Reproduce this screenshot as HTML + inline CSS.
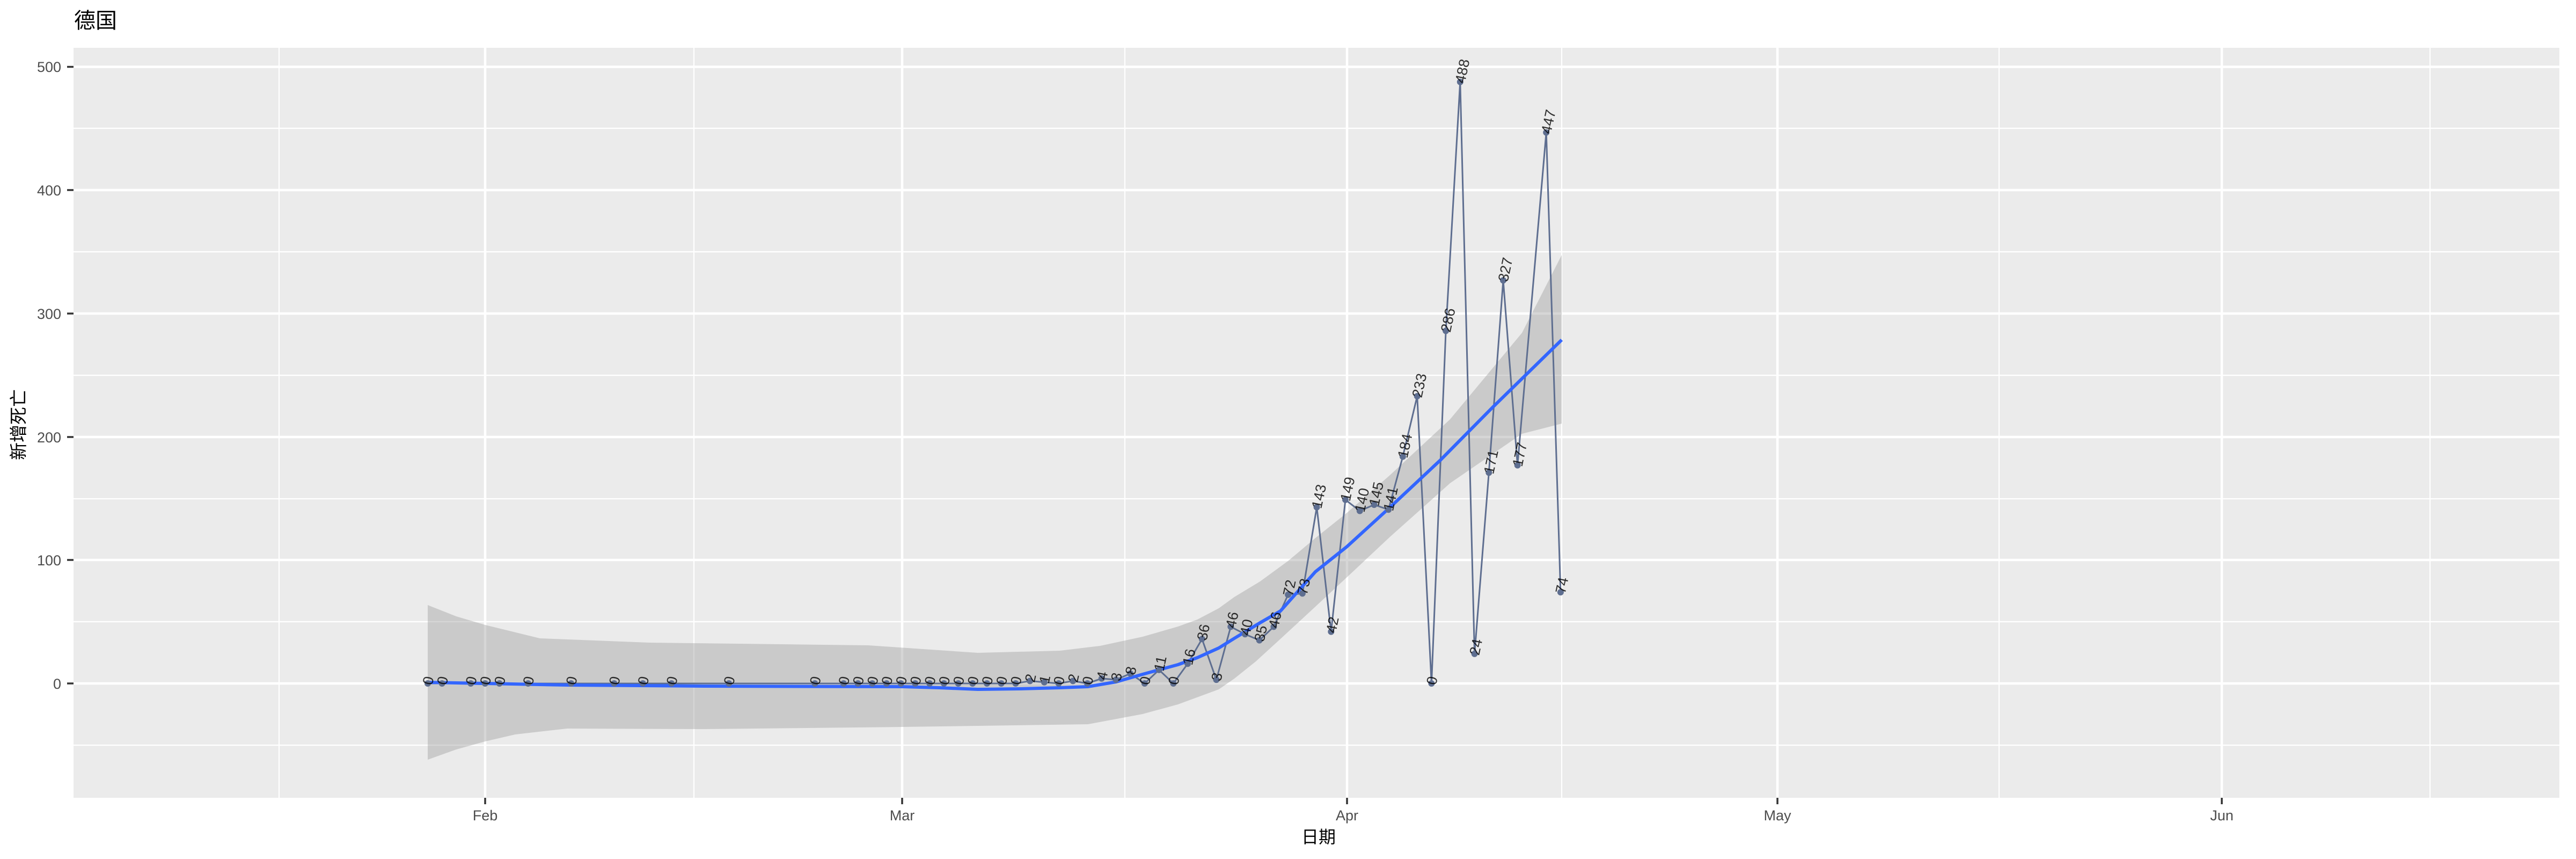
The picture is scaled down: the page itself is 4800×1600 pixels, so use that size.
<!DOCTYPE html>
<html><head><meta charset="utf-8"><style>
html,body{margin:0;padding:0;background:#fff;}
svg{display:block;}
.lab{font-family:"Liberation Sans",sans-serif;font-size:27px;fill:#000;fill-opacity:0.8;}
</style></head><body>
<svg width="4800" height="1600" viewBox="0 0 4800 1600" xmlns="http://www.w3.org/2000/svg">
<rect x="0" y="0" width="4800" height="1600" fill="#fff"/>
<text x="138" y="52" font-family="Liberation Sans,'Noto Sans CJK SC',sans-serif" font-size="40" fill="#000">德国</text>
<rect x="137" y="89" width="4632" height="1397" fill="#EBEBEB"/>
<g stroke="#fff" stroke-width="2.2">
<line x1="137" x2="4769" y1="1388" y2="1388"/><line x1="137" x2="4769" y1="1158" y2="1158"/>
<line x1="137" x2="4769" y1="929" y2="929"/><line x1="137" x2="4769" y1="699" y2="699"/>
<line x1="137" x2="4769" y1="469" y2="469"/><line x1="137" x2="4769" y1="239" y2="239"/>
<line y1="89" y2="1486" x1="520" x2="520"/><line y1="89" y2="1486" x1="1293" x2="1293"/>
<line y1="89" y2="1486" x1="2096" x2="2096"/><line y1="89" y2="1486" x1="2910" x2="2910"/>
<line y1="89" y2="1486" x1="3725" x2="3725"/><line y1="89" y2="1486" x1="4528" x2="4528"/>
</g>
<g stroke="#fff" stroke-width="4.5">
<line x1="137" x2="4769" y1="1273" y2="1273"/><line x1="137" x2="4769" y1="1043" y2="1043"/>
<line x1="137" x2="4769" y1="814" y2="814"/><line x1="137" x2="4769" y1="584" y2="584"/>
<line x1="137" x2="4769" y1="354" y2="354"/><line x1="137" x2="4769" y1="124.5" y2="124.5"/>
<line y1="89" y2="1486" x1="904" x2="904"/><line y1="89" y2="1486" x1="1681" x2="1681"/>
<line y1="89" y2="1486" x1="2510" x2="2510"/><line y1="89" y2="1486" x1="3312" x2="3312"/>
<line y1="89" y2="1486" x1="4140" x2="4140"/>
</g>
<path fill="#999" fill-opacity="0.4" d="M797,1127 L850,1148 L904,1164 L1006,1189 L1210,1197 L1618,1202 L1720,1209 L1822,1216 L1975,1212 L2050,1203 L2129,1186 L2195,1167 L2231,1154 L2271,1133 L2300,1112 L2348,1083 L2400,1045 L2450,1003 L2510,955 L2590,885 L2702,781 L2836,620 L2910,475 L2910,789 L2836,808 L2702,900 L2590,1000 L2510,1075 L2451,1130 L2386,1190 L2340,1232 L2300,1264 L2271,1284 L2195,1312 L2129,1330 L2027,1349 L1822,1352 L1682,1354 L1312,1358 L1057,1357 L960,1368 L904,1381 L850,1396 L797,1415 Z"/>
<polyline fill="none" stroke="#5E6E90" stroke-width="3" stroke-linejoin="round" points="797,1273 1892.5,1273 1919.2,1268.4 1945.9,1270.7 1972.6,1273 1999.3,1268.4 2026.1,1273 2052.8,1263.8 2079.5,1266.1 2106.2,1254.6 2132.9,1273 2159.7,1247.7 2186.4,1273 2213.1,1236.3 2239.8,1190.3 2266.5,1266.1 2293.3,1167.4 2320,1181.2 2346.7,1192.6 2373.4,1167.4 2400.1,1107.7 2426.9,1105.4 2453.6,944.7 2480.3,1176.6 2507,930.9 2533.8,951.6 2560.5,940.1 2587.2,949.3 2613.9,850.5 2640.7,738 2667.4,1273 2694.1,616.3 2720.8,152.6 2747.6,1217.9 2774.3,880.4 2801,522.2 2827.7,866.6 2881.2,246.7 2907.9,1103.1"/>
<polyline fill="none" stroke="#3366FF" stroke-width="6" stroke-linejoin="round" points="797,1271 904,1273 1057,1276 1312,1278 1682,1279 1750,1281 1822,1284 1900,1283 1975,1281 2027,1279 2080,1270 2129,1256 2195,1238 2231,1225 2271,1207 2300,1189 2348,1160 2386,1138 2451,1065 2510,1018 2590,945 2684,857 2782,758 2910,633"/>
<g fill="#5E6E90">
<circle cx="797" cy="1273" r="6"/><circle cx="823.7" cy="1273" r="6"/><circle cx="877.2" cy="1273" r="6"/><circle cx="903.9" cy="1273" r="6"/><circle cx="930.6" cy="1273" r="6"/><circle cx="984" cy="1273" r="6"/><circle cx="1064.2" cy="1273" r="6"/><circle cx="1144.4" cy="1273" r="6"/><circle cx="1197.8" cy="1273" r="6"/><circle cx="1251.2" cy="1273" r="6"/><circle cx="1358.1" cy="1273" r="6"/><circle cx="1518.4" cy="1273" r="6"/>
<circle cx="1571.9" cy="1273" r="6"/><circle cx="1598.6" cy="1273" r="6"/><circle cx="1625.3" cy="1273" r="6"/><circle cx="1652" cy="1273" r="6"/><circle cx="1678.7" cy="1273" r="6"/><circle cx="1705.4" cy="1273" r="6"/><circle cx="1732.2" cy="1273" r="6"/><circle cx="1758.9" cy="1273" r="6"/><circle cx="1785.6" cy="1273" r="6"/><circle cx="1812.3" cy="1273" r="6"/><circle cx="1839" cy="1273" r="6"/><circle cx="1865.7" cy="1273" r="6"/><circle cx="1892.5" cy="1273" r="6"/>
<circle cx="1919.2" cy="1268.4" r="6"/><circle cx="1945.9" cy="1270.7" r="6"/><circle cx="1972.6" cy="1273" r="6"/><circle cx="1999.3" cy="1268.4" r="6"/><circle cx="2026.1" cy="1273" r="6"/><circle cx="2052.8" cy="1263.8" r="6"/><circle cx="2079.5" cy="1266.1" r="6"/><circle cx="2106.2" cy="1254.6" r="6"/><circle cx="2132.9" cy="1273" r="6"/><circle cx="2159.7" cy="1247.7" r="6"/><circle cx="2186.4" cy="1273" r="6"/><circle cx="2213.1" cy="1236.3" r="6"/><circle cx="2239.8" cy="1190.3" r="6"/><circle cx="2266.5" cy="1266.1" r="6"/><circle cx="2293.3" cy="1167.4" r="6"/><circle cx="2320" cy="1181.2" r="6"/><circle cx="2346.7" cy="1192.6" r="6"/><circle cx="2373.4" cy="1167.4" r="6"/><circle cx="2400.1" cy="1107.7" r="6"/><circle cx="2426.9" cy="1105.4" r="6"/><circle cx="2453.6" cy="944.7" r="6"/><circle cx="2480.3" cy="1176.6" r="6"/><circle cx="2507" cy="930.9" r="6"/><circle cx="2533.8" cy="951.6" r="6"/><circle cx="2560.5" cy="940.1" r="6"/><circle cx="2587.2" cy="949.3" r="6"/><circle cx="2613.9" cy="850.5" r="6"/><circle cx="2640.7" cy="738" r="6"/><circle cx="2667.4" cy="1273" r="6"/><circle cx="2694.1" cy="616.3" r="6"/><circle cx="2720.8" cy="152.6" r="6"/><circle cx="2747.6" cy="1217.9" r="6"/><circle cx="2774.3" cy="880.4" r="6"/><circle cx="2801" cy="522.2" r="6"/><circle cx="2827.7" cy="866.6" r="6"/><circle cx="2881.2" cy="246.7" r="6"/><circle cx="2907.9" cy="1103.1" r="6"/>
</g>
<g class="lab">
<text transform="translate(797,1273) rotate(-78)" x="-2" dy="9">0</text>
<text transform="translate(823.7,1273) rotate(-78)" x="-2" dy="9">0</text>
<text transform="translate(877.2,1273) rotate(-78)" x="-2" dy="9">0</text>
<text transform="translate(903.9,1273) rotate(-78)" x="-2" dy="9">0</text>
<text transform="translate(930.6,1273) rotate(-78)" x="-2" dy="9">0</text>
<text transform="translate(984,1273) rotate(-78)" x="-2" dy="9">0</text>
<text transform="translate(1064.2,1273) rotate(-78)" x="-2" dy="9">0</text>
<text transform="translate(1144.4,1273) rotate(-78)" x="-2" dy="9">0</text>
<text transform="translate(1197.8,1273) rotate(-78)" x="-2" dy="9">0</text>
<text transform="translate(1251.2,1273) rotate(-78)" x="-2" dy="9">0</text>
<text transform="translate(1358.1,1273) rotate(-78)" x="-2" dy="9">0</text>
<text transform="translate(1518.4,1273) rotate(-78)" x="-2" dy="9">0</text>
<text transform="translate(1571.9,1273) rotate(-78)" x="-2" dy="9">0</text>
<text transform="translate(1598.6,1273) rotate(-78)" x="-2" dy="9">0</text>
<text transform="translate(1625.3,1273) rotate(-78)" x="-2" dy="9">0</text>
<text transform="translate(1652,1273) rotate(-78)" x="-2" dy="9">0</text>
<text transform="translate(1678.7,1273) rotate(-78)" x="-2" dy="9">0</text>
<text transform="translate(1705.4,1273) rotate(-78)" x="-2" dy="9">0</text>
<text transform="translate(1732.2,1273) rotate(-78)" x="-2" dy="9">0</text>
<text transform="translate(1758.9,1273) rotate(-78)" x="-2" dy="9">0</text>
<text transform="translate(1785.6,1273) rotate(-78)" x="-2" dy="9">0</text>
<text transform="translate(1812.3,1273) rotate(-78)" x="-2" dy="9">0</text>
<text transform="translate(1839,1273) rotate(-78)" x="-2" dy="9">0</text>
<text transform="translate(1865.7,1273) rotate(-78)" x="-2" dy="9">0</text>
<text transform="translate(1892.5,1273) rotate(-78)" x="-2" dy="9">0</text>
<text transform="translate(1919.2,1268.4) rotate(-78)" x="-2" dy="9">2</text>
<text transform="translate(1945.9,1270.7) rotate(-78)" x="-2" dy="9">1</text>
<text transform="translate(1972.6,1273) rotate(-78)" x="-2" dy="9">0</text>
<text transform="translate(1999.3,1268.4) rotate(-78)" x="-2" dy="9">2</text>
<text transform="translate(2026.1,1273) rotate(-78)" x="-2" dy="9">0</text>
<text transform="translate(2052.8,1263.8) rotate(-78)" x="-2" dy="9">4</text>
<text transform="translate(2079.5,1266.1) rotate(-78)" x="-2" dy="9">3</text>
<text transform="translate(2106.2,1254.6) rotate(-78)" x="-2" dy="9">8</text>
<text transform="translate(2132.9,1273) rotate(-78)" x="-2" dy="9">0</text>
<text transform="translate(2159.7,1247.7) rotate(-78)" x="-2" dy="9">11</text>
<text transform="translate(2186.4,1273) rotate(-78)" x="-2" dy="9">0</text>
<text transform="translate(2213.1,1236.3) rotate(-78)" x="-2" dy="9">16</text>
<text transform="translate(2239.8,1190.3) rotate(-78)" x="-2" dy="9">36</text>
<text transform="translate(2266.5,1266.1) rotate(-78)" x="-2" dy="9">3</text>
<text transform="translate(2293.3,1167.4) rotate(-78)" x="-2" dy="9">46</text>
<text transform="translate(2320,1181.2) rotate(-78)" x="-2" dy="9">40</text>
<text transform="translate(2346.7,1192.6) rotate(-78)" x="-2" dy="9">35</text>
<text transform="translate(2373.4,1167.4) rotate(-78)" x="-2" dy="9">46</text>
<text transform="translate(2400.1,1107.7) rotate(-78)" x="-2" dy="9">72</text>
<text transform="translate(2426.9,1105.4) rotate(-78)" x="-2" dy="9">73</text>
<text transform="translate(2453.6,944.7) rotate(-78)" x="-2" dy="9">143</text>
<text transform="translate(2480.3,1176.6) rotate(-78)" x="-2" dy="9">42</text>
<text transform="translate(2507,930.9) rotate(-78)" x="-2" dy="9">149</text>
<text transform="translate(2533.8,951.6) rotate(-78)" x="-2" dy="9">140</text>
<text transform="translate(2560.5,940.1) rotate(-78)" x="-2" dy="9">145</text>
<text transform="translate(2587.2,949.3) rotate(-78)" x="-2" dy="9">141</text>
<text transform="translate(2613.9,850.5) rotate(-78)" x="-2" dy="9">184</text>
<text transform="translate(2640.7,738) rotate(-78)" x="-2" dy="9">233</text>
<text transform="translate(2667.4,1273) rotate(-78)" x="-2" dy="9">0</text>
<text transform="translate(2694.1,616.3) rotate(-78)" x="-2" dy="9">286</text>
<text transform="translate(2720.8,152.6) rotate(-78)" x="-2" dy="9">488</text>
<text transform="translate(2747.6,1217.9) rotate(-78)" x="-2" dy="9">24</text>
<text transform="translate(2774.3,880.4) rotate(-78)" x="-2" dy="9">171</text>
<text transform="translate(2801,522.2) rotate(-78)" x="-2" dy="9">327</text>
<text transform="translate(2827.7,866.6) rotate(-78)" x="-2" dy="9">177</text>
<text transform="translate(2881.2,246.7) rotate(-78)" x="-2" dy="9">447</text>
<text transform="translate(2907.9,1103.1) rotate(-78)" x="-2" dy="9">74</text>
</g>
<g stroke="#333" stroke-width="3.5">
<line x1="125" x2="137" y1="1273" y2="1273"/><line x1="125" x2="137" y1="1043" y2="1043"/>
<line x1="125" x2="137" y1="814" y2="814"/><line x1="125" x2="137" y1="584" y2="584"/>
<line x1="125" x2="137" y1="354" y2="354"/><line x1="125" x2="137" y1="124.5" y2="124.5"/>
<line y1="1486" y2="1498" x1="904" x2="904"/><line y1="1486" y2="1498" x1="1681" x2="1681"/>
<line y1="1486" y2="1498" x1="2510" x2="2510"/><line y1="1486" y2="1498" x1="3312" x2="3312"/>
<line y1="1486" y2="1498" x1="4140" x2="4140"/>
</g>
<g font-family="Liberation Sans,sans-serif" font-size="27" fill="#4D4D4D" text-anchor="end">
<text x="114" y="1283">0</text><text x="114" y="1053">100</text><text x="114" y="824">200</text>
<text x="114" y="594">300</text><text x="114" y="364">400</text><text x="114" y="134">500</text>
</g>
<g font-family="Liberation Sans,sans-serif" font-size="27" fill="#4D4D4D" text-anchor="middle">
<text x="904" y="1528">Feb</text><text x="1681" y="1528">Mar</text><text x="2510" y="1528">Apr</text>
<text x="3312" y="1528">May</text><text x="4140" y="1528">Jun</text>
</g>
<text x="2457" y="1570" text-anchor="middle" font-family="Liberation Sans,'Noto Sans CJK SC',sans-serif" font-size="32" fill="#000">日期</text>
<text transform="translate(46,791) rotate(-90)" text-anchor="middle" font-family="Liberation Sans,'Noto Sans CJK SC',sans-serif" font-size="33" fill="#000">新增死亡</text>
</svg>
</body></html>
